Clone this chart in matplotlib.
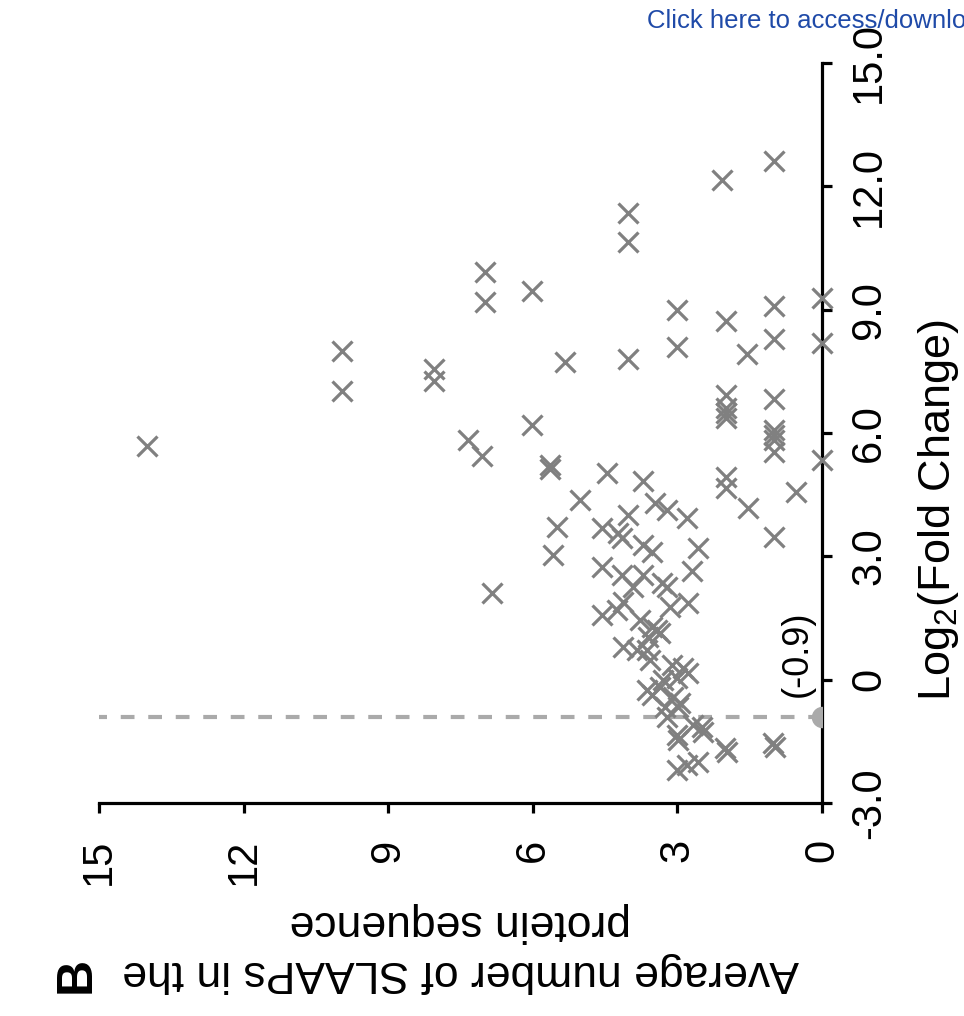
import matplotlib
matplotlib.use('Agg')
import matplotlib.pyplot as plt
import numpy as np

plt.rcParams['font.family'] = ['Liberation Sans', 'DejaVu Sans']
plt.rcParams['mathtext.fontset'] = 'custom'
plt.rcParams['mathtext.rm'] = 'Liberation Sans'
plt.rcParams['mathtext.it'] = 'Liberation Sans'
plt.rcParams['mathtext.bf'] = 'Liberation Sans:bold'
plt.rcParams['mathtext.default'] = 'rm'

# average number of SLAAPs per protein (x) and log2 fold change (y)
slaaps = [14.0, 9.96, 9.96, 8.05, 8.05, 7.34, 7.05, 6.99, 6.99, 6.85,
          6.02, 6.02, 5.33, 5.64, 5.64, 5.58, 5.50, 5.02, 4.46, 4.02,
          4.02, 4.02, 4.02, 3.71, 3.46, 3.22, 3.01, 3.01, 2.80, 2.57,
          2.70, 2.78, 1.99, 1.99, 1.99, 1.99, 1.99, 2.07, 1.99, 1.99,
          1.56, 1.54, 1.00, 1.00, 1.00, 1.00, 1.00, 1.00, 1.00, 1.00,
          1.00, 0.54, 0.00, 0.00, 0.00,
          4.56, 4.23, 4.15, 3.71, 3.53, 4.56, 4.15, 3.71, 3.92, 3.32,
          3.22, 3.15, 4.13, 4.56, 4.25, 3.78, 3.53, 3.42, 3.61, 3.36,
          4.13, 3.84, 3.63, 3.57, 3.11, 2.88, 2.78, 3.01, 3.30, 3.63,
          3.53, 3.36, 3.09, 2.95, 3.26, 3.22, 2.99, 2.68, 2.49, 2.47,
          3.01, 2.99, 2.01, 1.97, 1.02, 0.98, 3.01, 2.80, 2.57]
log2fc = [5.68, 7.99, 7.02, 7.55, 7.26, 5.83, 5.44, 9.91, 9.18, 2.10,
          9.45, 6.19, 7.73, 5.22, 5.12, 3.03, 3.71, 4.37, 5.02, 11.35,
          10.64, 7.80, 4.00, 4.83, 4.29, 4.12, 8.99, 8.09, 3.93, 3.20,
          2.64, 1.86, 8.72, 6.92, 6.61, 6.48, 6.36, 12.15, 4.93, 4.66,
          7.92, 4.17, 12.62, 9.09, 8.28, 6.82, 6.07, 5.95, 5.83, 5.54,
          3.47, 4.56, 9.28, 8.19, 5.34,
          3.69, 3.56, 3.44, 3.27, 3.10, 2.74, 2.54, 2.54, 2.25, 2.35,
          2.25, 1.76, 1.89, 1.57, 1.69, 1.45, 1.28, 1.20, 1.03, 1.13,
          0.79, 0.72, 0.72, 0.47, 0.35, 0.28, 0.16, 0.04, -0.01, -0.26,
          -0.38, -0.18, -0.43, -0.57, -0.67, -0.91, -0.67, -1.11, -1.16, -1.28,
          -1.35, -1.47, -1.67, -1.76, -1.54, -1.64, -2.20, -2.08, -2.01]
threshold = -0.9

xticks = [15, 12, 9, 6, 3, 0]
yticks = [15, 12, 9, 6, 3, 0, -3]
ytick_labels = ['15.0', '12.0', '9.0', '6.0', '3.0', '0', '-3.0']

fig = plt.figure(figsize=(9.64, 10.16), dpi=100)
ax = fig.add_axes([0.1027, 0.2096, 0.75, 0.7284])

ax.hlines(threshold, 0, 15, colors='#aaaaaa', linewidth=3,
          linestyles=(0, (3.3, 3.3)))
ax.plot(0, threshold, 'o', ms=14.4, color='#aaaaaa', zorder=3)
ax.plot(slaaps, log2fc, 'x', ms=14, mew=2.3, color='#808080',
        linestyle='none', clip_on=False, zorder=4)

ax.annotate('(-0.9)', xy=(0, threshold), xytext=(-18, 45),
            textcoords='offset points', rotation=90, fontsize=26,
            ha='center', va='center')

ax.set_xlim(15, 0)
ax.set_ylim(-3, 15)
ax.spines['top'].set_visible(False)
ax.spines['left'].set_visible(False)
ax.spines['bottom'].set_linewidth(2.3)
ax.spines['right'].set_linewidth(2.3)
ax.yaxis.tick_right()
ax.yaxis.set_label_position('right')
ax.set_xticks(xticks)
ax.set_xticklabels([str(t) for t in xticks], rotation=90)
ax.set_yticks(yticks)
ax.set_yticklabels(ytick_labels, rotation=90, va='center')
ax.tick_params(axis='both', direction='out', length=7.5, width=2.3,
               labelsize=30)
ax.tick_params(axis='x', pad=18)
ax.tick_params(axis='y', pad=12)

ax.set_xlabel('Average number of SLAAPs in the\nprotein sequence',
              rotation=180, fontsize=32, labelpad=12, linespacing=1.3)
ax.set_ylabel('Log$_2$(Fold Change)', rotation=90, fontsize=32.5)
ax.yaxis.set_label_coords(1.13, 0.396)

fig.text(0.08, 0.04, 'B', rotation=90, fontsize=36, fontweight='bold',
         ha='center', va='center')
fig.text(647 / 964, 1 - 28 / 1016, 'Click here to access/download',
         fontsize=18.5, color='#1f4aa8', va='baseline')

fig.savefig('out.png', dpi=100)
